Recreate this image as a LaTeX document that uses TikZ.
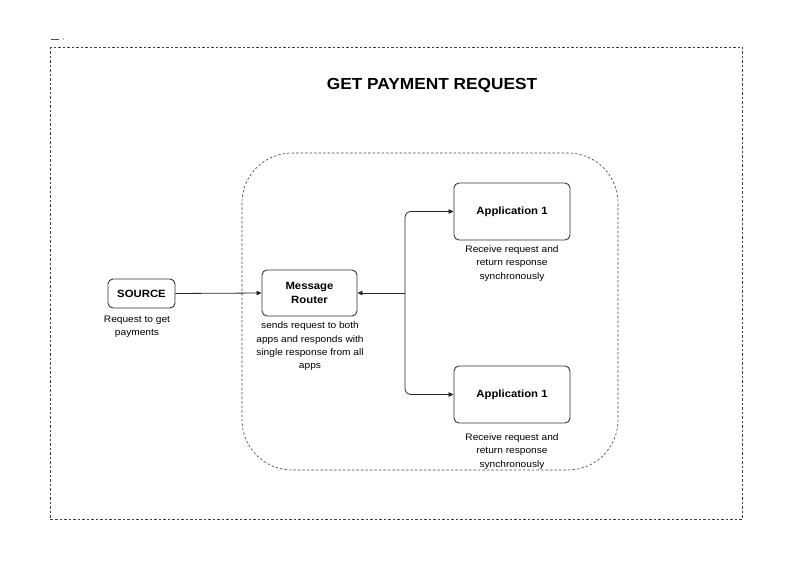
\documentclass[tikz,border=0pt]{standalone}
\usepackage{fontspec}
\setmainfont{Liberation Sans}[FakeStretch=1.08]
\usetikzlibrary{arrows.meta}
\begin{document}
\begin{tikzpicture}[x=1pt,y=-1pt,
  box/.style={draw=black!80,line width=0.9pt,rounded corners=5pt,align=center,font=\bfseries\fontsize{10.5}{12}\selectfont,inner sep=0pt},
  note/.style={align=center,font=\fontsize{9.4}{13.3}\selectfont,inner sep=0pt},
  conn/.style={draw=black!85,line width=0.8pt,-{Triangle[length=5pt,width=4.5pt]}},
  frame/.style={draw=black!75,line width=0.6pt,dash pattern=on 2.5pt off 2pt}]
\useasboundingbox (0,0) rectangle (790,564);
\draw[black!70,line width=0.7pt] (51,39) -- (59,39);
\fill[black!60] (63.5,39) circle (0.6pt);
\draw[frame] (50,47) rectangle (742,519);
\node[font=\bfseries\fontsize{16}{18}\selectfont] (title) at (432,85) {GET PAYMENT REQUEST};
\draw[frame,rounded corners=50pt] (242,153) rectangle (618,470);
\node[box,minimum width=67pt,minimum height=29pt] (src) at (141.5,293.5) {SOURCE};
\node[note] (srcn) at (137,327) {Request to get\\payments};
\node[box,minimum width=95pt,minimum height=46pt,font=\bfseries\fontsize{10.5}{14}\selectfont] (router) at (309.5,293) {Message\\Router};
\node[note] (routern) at (310,346.5) {sends request to both\\apps and responds with\\single response from all\\apps};
\node[box,minimum width=116pt,minimum height=57pt] (app1) at (512,211.5) {Application 1};
\node[note] (app1n) at (512,263.5) {Receive request and\\return response\\synchronously};
\node[box,minimum width=116pt,minimum height=57pt] (app2) at (512,394.5) {Application 1};
\node[note] (app2n) at (512,451.5) {Receive request and\\return response\\synchronously};
\coordinate (j) at (405,293);
\draw[conn] (src.east) -- (router.west);
\draw[conn] (j) -- (router.east);
\draw[conn,rounded corners=6pt] (j) -- (405,211.5) -- (app1.west);
\draw[conn,rounded corners=6pt] (j) -- (405,394.5) -- (app2.west);
\end{tikzpicture}
\end{document}
